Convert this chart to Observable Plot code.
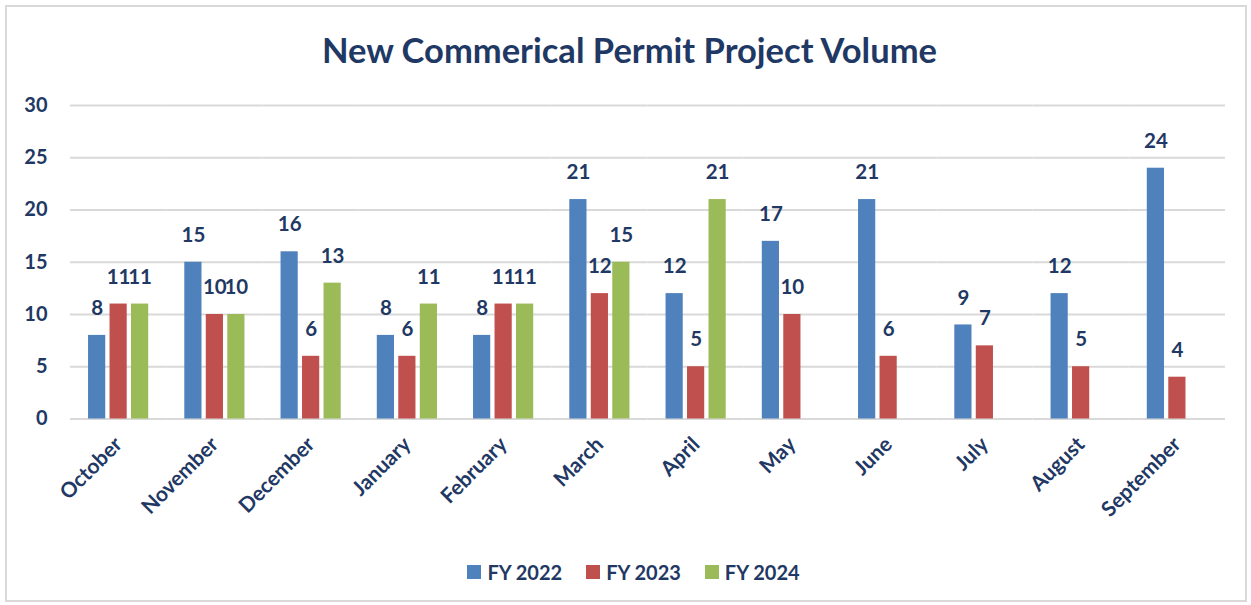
<!DOCTYPE html>
<html>
<head>
<meta charset="utf-8">
<script src="https://cdn.jsdelivr.net/npm/d3@7"></script>
<script src="https://cdn.jsdelivr.net/npm/@observablehq/plot@0.6"></script>
<style>
  html, body { margin: 0; padding: 0; background: #fff; }
  #wrap { position: relative; width: 1251px; height: 605px; overflow: hidden; font-family: Lato, "Open Sans", sans-serif; color: #1F3864; }
  #frame { position: absolute; left: 5px; top: 5px; right: 4px; bottom: 3px; border: 2px solid #D9D9D9; pointer-events: none; }
  #title { height: 80px; box-sizing: border-box; padding-top: 32px; text-align: center; font-size: 34.5px; line-height: 36px; font-weight: 700; padding-left: 8px; }
  #chart svg { display: block; }
  #legend { display: flex; justify-content: center; gap: 24px; padding-top: 12px; font-size: 20px; font-weight: 700; line-height: 20px; padding-left: 16px; }
  .item { display: flex; align-items: center; gap: 6px; }
  .sw { width: 14px; height: 14px; display: inline-block; }
</style>
</head>
<body>
<div id="wrap">
  <div id="frame"></div>
  <div id="title">New Commerical Permit Project Volume</div>
  <div id="chart"></div>
  <div id="legend"></div>
</div>
<script>
const months = ["October","November","December","January","February","March","April","May","June","July","August","September"];
const seriesNames = ["FY 2022","FY 2023","FY 2024"];
const seriesColors = ["#4F81BD","#C0504D","#9BBB59"];
const fy2022 = [8,15,16,8,8,21,12,17,21,9,12,24];
const fy2023 = [11,10,6,6,11,12,5,10,6,7,5,4];
const fy2024 = [11,10,13,11,11,15,21];
const yTicks = [0,5,10,15,20,25,30];

const allSeries = [fy2022, fy2023, fy2024];
const data = [];
allSeries.forEach((vals, si) => {
  vals.forEach((v, mi) => data.push({month: months[mi], series: seriesNames[si], value: v}));
});

const navy = "#1F3864";
const chart = Plot.plot({
  width: 1251,
  height: 470,
  marginLeft: 70,
  marginRight: 26,
  marginTop: 25,
  marginBottom: 131.5,
  style: {fontFamily: "Lato, 'Open Sans', sans-serif", fontWeight: "700", color: navy, background: "transparent"},
  fx: {domain: months, padding: 0, label: null, round: false, axis: null},
  x: {domain: seriesNames, paddingInner: 0.2, paddingOuter: 0.84, axis: null, round: false},
  y: {domain: [0, 30], label: null},
  color: {domain: seriesNames, range: seriesColors},
  marks: [
    Plot.ruleY(yTicks, {stroke: "#D9D9D9", strokeWidth: 2}),
    Plot.axisY({ticks: yTicks, tickSize: 0, tickPadding: 23, fontSize: 20, label: null, fill: navy}),
    Plot.axisFx({anchor: "bottom", tickRotate: -45, tickSize: 0, tickPadding: 22, fontSize: 21, label: null, fill: navy}),
    Plot.barY(data, {fx: "month", x: "series", y: "value", fill: "series"}),
    Plot.text(data, {fx: "month", x: "series", y: "value", text: d => String(d.value), dy: -27, fontSize: 20.5, fontWeight: 700, fill: navy})
  ]
});
document.getElementById("chart").appendChild(chart);

const legend = document.getElementById("legend");
seriesNames.forEach((name, i) => {
  const it = document.createElement("div");
  it.className = "item";
  const sw = document.createElement("span");
  sw.className = "sw";
  sw.style.background = seriesColors[i];
  const lb = document.createElement("span");
  lb.textContent = name;
  it.appendChild(sw);
  it.appendChild(lb);
  legend.appendChild(it);
});
</script>
</body>
</html>
